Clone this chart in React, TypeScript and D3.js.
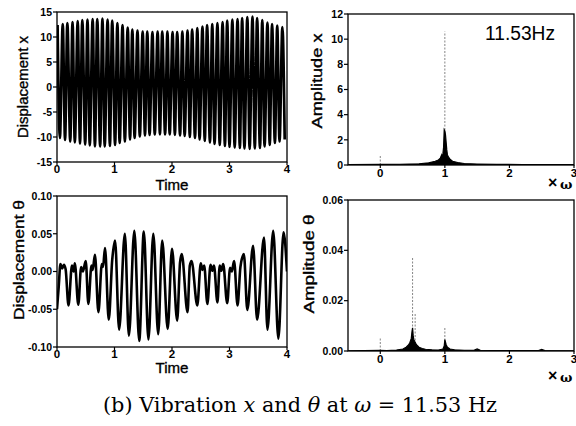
import React from 'react';
import * as d3 from 'd3';

// ---------- data ----------
const xPeakTimes = [0.01, 0.10, 0.18, 0.27, 0.36, 0.44, 0.53, 0.62, 0.70, 0.79, 0.88, 0.96, 1.05, 1.14, 1.23, 1.31, 1.40, 1.49, 1.57, 1.66, 1.75, 1.83, 1.92, 2.01, 2.09, 2.18, 2.27, 2.35, 2.44, 2.53, 2.61, 2.70, 2.79, 2.88, 2.96, 3.05, 3.14, 3.22, 3.31, 3.40, 3.48, 3.57, 3.66, 3.74, 3.83, 3.92];
const xPeakValues = [12.4, 12.6, 12.8, 13.0, 13.2, 13.4, 13.5, 13.6, 13.6, 13.7, 13.5, 13.3, 12.8, 12.4, 11.9, 11.5, 11.3, 11.1, 11.1, 11.0, 11.1, 11.1, 11.1, 11.0, 11.0, 11.1, 11.3, 11.5, 11.8, 12.1, 12.4, 12.6, 12.8, 13.0, 13.3, 13.5, 13.6, 13.8, 14.0, 14.1, 13.8, 13.4, 12.9, 12.6, 12.3, 12.0];
const xTroughTimes = [0.05, 0.14, 0.23, 0.31, 0.40, 0.49, 0.57, 0.66, 0.75, 0.83, 0.92, 1.01, 1.09, 1.18, 1.27, 1.35, 1.44, 1.53, 1.61, 1.70, 1.79, 1.88, 1.96, 2.05, 2.14, 2.22, 2.31, 2.40, 2.48, 2.57, 2.66, 2.74, 2.83, 2.92, 3.00, 3.09, 3.18, 3.26, 3.35, 3.44, 3.53, 3.61, 3.70, 3.79, 3.87, 3.96];
const xTroughValues = [-10.2, -10.6, -10.9, -11.1, -11.3, -11.5, -11.7, -11.9, -11.9, -11.9, -11.8, -11.6, -11.2, -10.9, -10.5, -10.2, -9.9, -9.7, -9.6, -9.5, -9.5, -9.5, -9.5, -9.6, -9.7, -9.8, -10.0, -10.2, -10.5, -10.8, -11.1, -11.4, -11.6, -11.8, -12.0, -12.1, -12.2, -12.3, -12.4, -12.3, -12.2, -11.9, -11.6, -11.2, -10.9, -10.5];

const thetaTimes = [0.00, 0.03, 0.06, 0.09, 0.12, 0.15, 0.20, 0.26, 0.29, 0.31, 0.37, 0.42, 0.45, 0.50, 0.545, 0.60, 0.62, 0.66, 0.72, 0.78, 0.80, 0.835, 0.90, 0.96, 1.01, 1.08, 1.18, 1.25, 1.345, 1.43, 1.51, 1.59, 1.675, 1.76, 1.83, 1.925, 2.00, 2.09, 2.14, 2.17, 2.27, 2.31, 2.34, 2.44, 2.50, 2.53, 2.56, 2.615, 2.67, 2.70, 2.73, 2.79, 2.83, 2.86, 2.89, 2.96, 3.01, 3.04, 3.08, 3.14, 3.19, 3.25, 3.31, 3.41, 3.48, 3.60, 3.66, 3.76, 3.85, 3.94, 4.00];
const thetaValues = [-0.050, -0.020, 0.010, 0.004, 0.009, 0.003, -0.045, 0.008, 0.000, 0.011, -0.044, 0.006, 0.000, 0.014, -0.043, 0.008, 0.002, 0.022, -0.054, 0.010, 0.006, 0.031, -0.064, 0.015, 0.041, -0.077, 0.050, -0.085, 0.054, -0.092, 0.053, -0.090, 0.050, -0.083, 0.041, -0.076, 0.030, -0.065, 0.012, 0.023, -0.054, 0.008, 0.014, -0.045, 0.011, 0.002, 0.008, -0.043, 0.009, 0.001, 0.008, -0.041, 0.008, 0.001, 0.010, -0.042, 0.005, 0.000, 0.014, -0.045, 0.006, 0.023, -0.051, 0.034, -0.064, 0.045, -0.077, 0.054, -0.089, 0.052, 0.000];

const specXFreq = [-0.5, 0.0, 0.3, 0.6, 0.75, 0.85, 0.90, 0.93, 0.95, 0.96, 0.97, 0.98, 0.99, 1.00, 1.01, 1.02, 1.03, 1.04, 1.06, 1.08, 1.12, 1.20, 1.30, 1.50, 1.80, 2.20, 3.00];
const specXAmp = [0.03, 0.05, 0.06, 0.10, 0.17, 0.30, 0.40, 0.55, 0.80, 0.55, 0.90, 1.40, 2.80, 2.70, 2.40, 1.80, 1.20, 0.80, 0.60, 0.45, 0.30, 0.20, 0.12, 0.08, 0.05, 0.04, 0.03];
const specXLineFreq = [0, 1];
const specXLineAmp = [0.8, 10.6];

const specThFreq = [-0.5, 0.0, 0.1, 0.25, 0.35, 0.40, 0.44, 0.46, 0.48, 0.49, 0.50, 0.51, 0.52, 0.54, 0.56, 0.60, 0.65, 0.70, 0.80, 0.90, 0.97, 0.99, 1.00, 1.01, 1.02, 1.04, 1.08, 1.15, 1.30, 1.45, 1.50, 1.55, 1.80, 2.00, 2.45, 2.50, 2.55, 3.00];
const specThAmp = [0.0001, 0.0003, 0.0002, 0.0004, 0.0008, 0.0015, 0.0025, 0.0035, 0.005, 0.0075, 0.0092, 0.006, 0.0045, 0.0035, 0.0025, 0.0015, 0.001, 0.0007, 0.0005, 0.0004, 0.0008, 0.002, 0.0045, 0.0035, 0.0025, 0.0015, 0.0008, 0.0005, 0.0003, 0.0003, 0.0008, 0.0003, 0.0002, 0.0002, 0.0002, 0.0006, 0.0002, 0.0001];
const specThLineFreq = [0, 0.5, 0.54, 1];
const specThLineAmp = [0.005, 0.037, 0.015, 0.0097];

const timeTicks = [0, 1, 2, 3, 4];
const xDispTicks = [-15, -10, -5, 0, 5, 10, 15];
const thetaDispTicks = [-0.1, -0.05, 0, 0.05, 0.1];
const freqTicks = [0, 1, 2, 3];
const ampXTicks = [0, 2, 4, 6, 8, 10, 12];
const ampThTicks = [0, 0.02, 0.04, 0.06];

// ---------- drawing ----------
const SANS = 'Liberation Sans, Arial, Helvetica, sans-serif';

type Box = { l: number; r: number; t: number; b: number };

function Panel(props: {
  id: string;
  box: Box;
  xDomain: [number, number];
  yDomain: [number, number];
  xTicks: number[];
  yTicks: number[];
  yFmt: (v: number) => string;
  xLabelDy: number;
  render: (xs: d3.ScaleLinear<number, number>, ys: d3.ScaleLinear<number, number>) => React.ReactNode;
}) {
  const { id, box, xDomain, yDomain, xTicks, yTicks, yFmt, xLabelDy, render } = props;
  const xs = d3.scaleLinear().domain(xDomain).range([box.l, box.r]);
  const ys = d3.scaleLinear().domain(yDomain).range([box.b, box.t]);
  return (
    <g>
      <defs>
        <clipPath id={id}>
          <rect x={box.l} y={box.t} width={box.r - box.l} height={box.b - box.t} />
        </clipPath>
      </defs>
      <g clipPath={`url(#${id})`}>{render(xs, ys)}</g>
      <rect x={box.l} y={box.t} width={box.r - box.l} height={box.b - box.t} fill="none" stroke="#000" strokeWidth={1.3} />
      {yTicks.map((v) => (
        <g key={'y' + v}>
          <line x1={box.l - 4} x2={box.l} y1={ys(v)} y2={ys(v)} stroke="#000" strokeWidth={1.2} />
          <text x={box.l - 5} y={ys(v)} dy="0.36em" textAnchor="end" fontFamily={SANS} fontWeight={700} fontSize={10.5}>
            {yFmt(v)}
          </text>
        </g>
      ))}
      {xTicks.map((v) => (
        <g key={'x' + v}>
          <line x1={xs(v)} x2={xs(v)} y1={box.b} y2={box.b + 3} stroke="#000" strokeWidth={1.2} />
          <text x={xs(v)} y={box.b + xLabelDy} textAnchor="middle" fontFamily={SANS} fontWeight={700} fontSize={11.5}>
            {String(v)}
          </text>
        </g>
      ))}
    </g>
  );
}

function VLabel({ x, y, text, len, size }: { x: number; y: number; text: React.ReactNode; len: number; size: number }) {
  return (
    <text
      transform={`translate(${x},${y}) rotate(-90)`}
      textAnchor="middle"
      dy="0.35em"
      fontFamily={SANS}
      fontSize={size}
      stroke="#000"
      strokeWidth={0.35}
      textLength={len}
      lengthAdjust="spacingAndGlyphs"
    >
      {text}
    </text>
  );
}

export default function App() {
  const boxTL: Box = { l: 57, r: 287, t: 12, b: 162 };
  const boxBL: Box = { l: 57, r: 287, t: 196, b: 347 };
  const boxTR: Box = { l: 348, r: 574, t: 14, b: 165 };
  const boxBR: Box = { l: 348, r: 574, t: 200, b: 351 };

  const xSignal: [number, number][] = [];
  xPeakTimes.forEach((t, i) => {
    xSignal.push([t, xPeakValues[i]]);
    xSignal.push([xTroughTimes[i], xTroughValues[i]]);
  });
  const thetaSignal: [number, number][] = thetaTimes.map((t, i) => [t, thetaValues[i]]);
  const specX: [number, number][] = specXFreq.map((f, i) => [f, specXAmp[i]]);
  const specTh: [number, number][] = specThFreq.map((f, i) => [f, specThAmp[i]]);

  const fmt2 = (v: number) => (v < 0 ? '-' : '') + Math.abs(v).toFixed(2);

  return (
    <svg width={576} height={426} style={{ position: 'absolute', left: 0, top: 0, background: '#fff' }}>
      <rect width={576} height={426} fill="#fff" />

      {/* Top-left: displacement x */}
      <Panel
        id="c1"
        box={boxTL}
        xDomain={[0, 4]}
        yDomain={[-15, 15]}
        xTicks={timeTicks}
        yTicks={xDispTicks}
        yFmt={(v) => String(v)}
        xLabelDy={11}
        render={(xs, ys) => {
          const line = d3.line<[number, number]>().x((d) => xs(d[0])).y((d) => ys(d[1])).curve(d3.curveMonotoneX);
          return <path d={line(xSignal) || ''} fill="none" stroke="#000" strokeWidth={2.7} />;
        }}
      />
      <VLabel x={23} y={87} text="Displacement x" len={102} size={14} />
      <text x={172} y={190} textAnchor="middle" fontFamily={SANS} fontSize={15} stroke="#000" strokeWidth={0.35} textLength={33} lengthAdjust="spacingAndGlyphs">Time</text>

      {/* Bottom-left: displacement theta */}
      <Panel
        id="c2"
        box={boxBL}
        xDomain={[0, 4]}
        yDomain={[-0.1, 0.1]}
        xTicks={timeTicks}
        yTicks={thetaDispTicks}
        yFmt={fmt2}
        xLabelDy={11}
        render={(xs, ys) => {
          const line = d3.line<[number, number]>().x((d) => xs(d[0])).y((d) => ys(d[1])).curve(d3.curveMonotoneX);
          return <path d={line(thetaSignal) || ''} fill="none" stroke="#000" strokeWidth={2.6} />;
        }}
      />
      <VLabel x={19} y={260} text="Displacement θ" len={120} size={14} />
      <text x={172} y={373} textAnchor="middle" fontFamily={SANS} fontSize={15} stroke="#000" strokeWidth={0.35} textLength={33} lengthAdjust="spacingAndGlyphs">Time</text>

      {/* Top-right: amplitude x spectrum */}
      <Panel
        id="c3"
        box={boxTR}
        xDomain={[-0.5, 3]}
        yDomain={[0, 12]}
        xTicks={freqTicks}
        yTicks={ampXTicks}
        yFmt={(v) => String(v)}
        xLabelDy={12}
        render={(xs, ys) => {
          const area = d3.area<[number, number]>().x((d) => xs(d[0])).y0(ys(0)).y1((d) => ys(d[1]));
          const line = d3.line<[number, number]>().x((d) => xs(d[0])).y((d) => ys(d[1]));
          return (
            <g>
              {specXLineFreq.map((f, i) => (
                <line key={i} x1={xs(f)} x2={xs(f)} y1={ys(0)} y2={ys(specXLineAmp[i])} stroke="#777" strokeWidth={0.9} strokeDasharray="2,1.5" />
              ))}
              <path d={area(specX) || ''} fill="#000" />
              <path d={line(specX) || ''} fill="none" stroke="#000" strokeWidth={1.2} />
            </g>
          );
        }}
      />
      <VLabel x={317} y={81} text="Amplitude x" len={95} size={14} />
      <text x={485} y={40} fontFamily={SANS} fontSize={20} textLength={70} lengthAdjust="spacingAndGlyphs">11.53Hz</text>
      <text x={548} y={188} fontFamily={SANS} fontWeight={700} fontSize={16}>×</text>
      <text x={560} y={189} fontFamily="DejaVu Serif, serif" fontWeight={700} fontSize={13}>ω</text>

      {/* Bottom-right: amplitude theta spectrum */}
      <Panel
        id="c4"
        box={boxBR}
        xDomain={[-0.5, 3]}
        yDomain={[0, 0.06]}
        xTicks={freqTicks}
        yTicks={ampThTicks}
        yFmt={fmt2}
        xLabelDy={12}
        render={(xs, ys) => {
          const area = d3.area<[number, number]>().x((d) => xs(d[0])).y0(ys(0)).y1((d) => ys(d[1]));
          const line = d3.line<[number, number]>().x((d) => xs(d[0])).y((d) => ys(d[1]));
          return (
            <g>
              {specThLineFreq.map((f, i) => (
                <line key={i} x1={xs(f)} x2={xs(f)} y1={ys(0)} y2={ys(specThLineAmp[i])} stroke="#777" strokeWidth={0.9} strokeDasharray="2,1.5" />
              ))}
              <path d={area(specTh) || ''} fill="#000" />
              <path d={line(specTh) || ''} fill="none" stroke="#000" strokeWidth={1.2} />
            </g>
          );
        }}
      />
      <VLabel x={309} y={264} text="Amplitude θ" len={99} size={14} />
      <text x={548} y={381} fontFamily={SANS} fontWeight={700} fontSize={16}>×</text>
      <text x={560} y={382} fontFamily="DejaVu Serif, serif" fontWeight={700} fontSize={13}>ω</text>

      {/* Caption */}
      <text x={300} y={412} textAnchor="middle" fontFamily="DejaVu Serif, Liberation Serif, serif" fontSize={20} textLength={394} lengthAdjust="spacingAndGlyphs">
        <tspan>(b) Vibration </tspan>
        <tspan fontStyle="italic">x</tspan>
        <tspan> and </tspan>
        <tspan fontStyle="italic">θ</tspan>
        <tspan> at </tspan>
        <tspan fontStyle="italic">ω</tspan>
        <tspan> = 11.53 Hz</tspan>
      </text>
    </svg>
  );
}
